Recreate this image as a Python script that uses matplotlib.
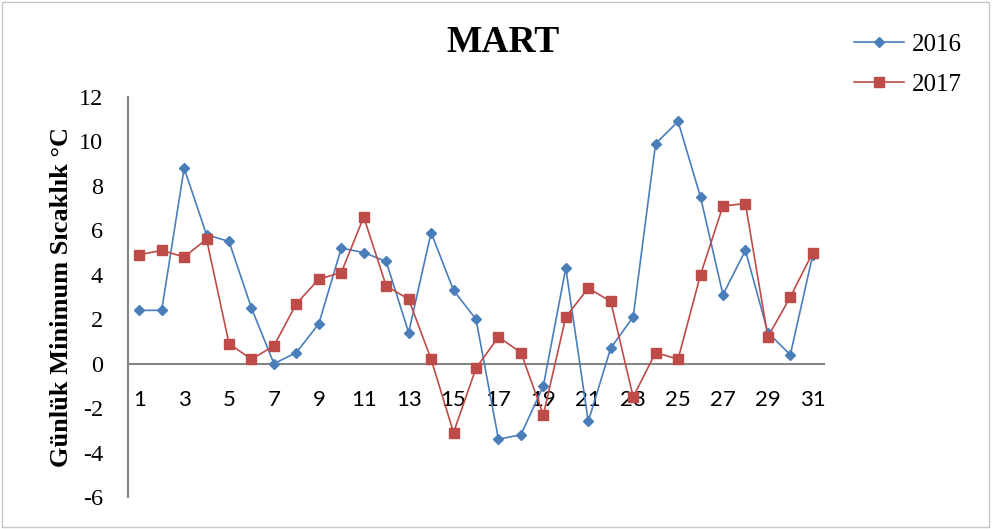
import numpy as np
import matplotlib
matplotlib.use("Agg")
import matplotlib.pyplot as plt
from matplotlib.patches import Rectangle

# daily minimum temperatures for March (°C)
days = list(range(1, 32))
t2016 = [2.4, 2.4, 8.8, 5.8, 5.5, 2.5, 0.0, 0.5, 1.8, 5.2, 5.0, 4.6, 1.4, 5.9, 3.3, 2.0,
         -3.4, -3.2, -1.0, 4.3, -2.6, 0.7, 2.1, 9.9, 10.9, 7.5, 3.1, 5.1, 1.4, 0.4, 4.9]
t2017 = [4.9, 5.1, 4.8, 5.6, 0.9, 0.2, 0.8, 2.7, 3.8, 4.1, 6.6, 3.5, 2.9, 0.2, -3.1, -0.2,
         1.2, 0.5, -2.3, 2.1, 3.4, 2.8, -1.5, 0.5, 0.2, 4.0, 7.1, 7.2, 1.2, 3.0, 5.0]
yticks = list(range(-6, 13, 2))
xtick_days = days[::2]

SERIF = ["Liberation Serif", "DejaVu Serif"]
C16 = "#4a7ebb"
C17 = "#be4b48"
AXC = "#868686"

fig = plt.figure(figsize=(9.92, 5.29), dpi=100)
ax = fig.add_axes([128 / 992, 32 / 529, 696 / 992, 400 / 529])

# x axis sits on the zero line (set before tick formatting, it resets the axis)
for s in ("top", "right"):
    ax.spines[s].set_visible(False)
ax.spines["bottom"].set_position(("data", 0))
ax.spines["bottom"].set_color(AXC)
ax.spines["bottom"].set_linewidth(1.5)
ax.spines["left"].set_color(AXC)
ax.spines["left"].set_linewidth(1.5)

ax.plot(days, t2016, color=C16, lw=1.2, marker="D", ms=5.5, label="2016", zorder=3)
ax.plot(days, t2017, color=C17, lw=1.2, marker="s", ms=7, label="2017", zorder=3)

ax.set_xlim(0.5, 31.5)
ax.set_ylim(-6, 12)
ax.set_yticks(yticks)
ax.set_yticklabels([str(v) for v in yticks], family=SERIF, fontsize=17.5)
ax.set_xticks(xtick_days)
ax.set_xticklabels([str(d) for d in xtick_days], family="Lato", fontsize=16)
ax.tick_params(axis="both", length=0)
ax.tick_params(axis="y", pad=18)
ax.tick_params(axis="x", pad=19)

ax.set_ylabel("Günlük Minimum Sıcaklık °C", family=SERIF, fontsize=19,
              fontweight="bold")
ax.yaxis.set_label_coords(-0.079, 0.5)
fig.text(503 / 992, 1 - 42 / 529, "MART", family=SERIF, fontsize=27,
         fontweight="bold", ha="center", va="center")

leg = fig.legend(loc="upper left", bbox_to_anchor=(831 / 992, 1 - 11 / 529),
                 frameon=False, prop={"family": SERIF, "size": 18},
                 handlelength=2.0, labelspacing=0.7, handletextpad=0.35)

fig.patches.append(Rectangle((0.002, 0.003), 0.995, 0.993, transform=fig.transFigure,
                             fill=False, edgecolor="#c8c8c8", lw=1.0))

fig.savefig("out.png", dpi=100)
